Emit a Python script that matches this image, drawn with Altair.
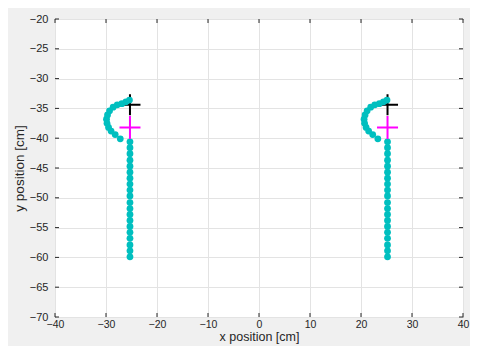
import altair as alt
import pandas as pd

# trajectory points (left and right)
left_x = [-25.3] * 20 + [-27.2, -28.2, -29.0, -29.5, -29.8, -29.9, -29.7, -29.3, -28.6, -27.8, -26.9, -26.1, -25.4]
left_y = [-59.9, -58.9, -57.9, -56.8, -55.8, -54.8, -53.8, -52.8, -51.8, -50.8,
          -49.7, -48.7, -47.7, -46.7, -45.7, -44.7, -43.7, -42.6, -41.6, -40.6,
          -40.1, -39.4, -38.8, -38.2, -37.5, -36.8, -36.1, -35.4, -34.8, -34.4, -34.2, -33.9, -33.6]
right_x = [25.2] * 20 + [23.3, 22.3, 21.5, 21.0, 20.7, 20.6, 20.8, 21.2, 21.9, 22.7, 23.6, 24.4, 25.1]
right_y = [-59.9, -58.9, -57.9, -56.8, -55.8, -54.8, -53.8, -52.8, -51.8, -50.8,
           -49.7, -48.7, -47.7, -46.7, -45.7, -44.7, -43.7, -42.6, -41.6, -40.6,
           -40.1, -39.4, -38.8, -38.2, -37.5, -36.8, -36.1, -35.4, -34.8, -34.4, -34.2, -33.9, -33.6]

# cross markers
black_x = [-25.3, 25.2]
black_y = [-34.4, -34.4]
magenta_x = [-25.3, 25.2]
magenta_y = [-38.2, -38.2]

x_ticks = [-40, -30, -20, -10, 0, 10, 20, 30, 40]
y_ticks = [-70, -65, -60, -55, -50, -45, -40, -35, -30, -25, -20]

pts = pd.DataFrame({"x": left_x + right_x, "y": left_y + right_y})
blk = pd.DataFrame({"x": black_x, "y": black_y})
mag = pd.DataFrame({"x": magenta_x, "y": magenta_y})
xt = pd.DataFrame({"x": x_ticks})
yt = pd.DataFrame({"y": y_ticks})

W, H = 408, 298
AX = "#262626"
XT = "x position [cm]"
YT = "y position [cm]"

xscale = alt.Scale(domain=[-40, 40], nice=False, zero=False)
yscale = alt.Scale(domain=[-70, -20], nice=False, zero=False)

xaxis = alt.Axis(values=x_ticks, title=XT, grid=True, ticks=False, domain=False,
                 labelPadding=2, titlePadding=1, format="d", labelFlush=False,
                 labelOverlap=False, labelFontSize=10.5, titleFontSize=12.5)
yaxis = alt.Axis(values=y_ticks, title=YT, grid=True, ticks=False, domain=False,
                 labelPadding=7, titlePadding=3, format="d", labelFlush=False,
                 labelOverlap=False, labelFontSize=11, titleFontSize=13.5)

X = alt.X("x:Q", scale=xscale, axis=xaxis, title=XT)
Y = alt.Y("y:Q", scale=yscale, axis=yaxis, title=YT)

points = alt.Chart(pts).mark_circle(size=46, color="#00bfbf", opacity=1).encode(x=X, y=Y)

black = alt.Chart(blk).mark_point(shape="M-1,0H1M0,-1V1", size=441, strokeWidth=2,
                                  color="black", filled=False, opacity=1).encode(x=X, y=Y)
magenta = alt.Chart(mag).mark_point(shape="M-1,0H1M0,-1.1V1.1", size=441, strokeWidth=2,
                                    color="#ff00ff", filled=False, opacity=1).encode(x=X, y=Y)

tick_b = alt.Chart(xt).mark_rule(color=AX, strokeWidth=1).encode(
    x=X, y=alt.value(H), y2=alt.value(H - 4))
tick_t = alt.Chart(xt).mark_rule(color=AX, strokeWidth=1).encode(
    x=X, y=alt.value(0), y2=alt.value(4))
tick_l = alt.Chart(yt).mark_rule(color=AX, strokeWidth=1).encode(
    y=Y, x=alt.value(0), x2=alt.value(4))
tick_r = alt.Chart(yt).mark_rule(color=AX, strokeWidth=1).encode(
    y=Y, x=alt.value(W), x2=alt.value(W - 4))

chart = alt.layer(tick_b, tick_t, tick_l, tick_r, black, points, magenta).properties(
    width=W, height=H,
    background="#f0f0f0",
    autosize=alt.AutoSizeParams(type="none"),
    padding={"left": 47, "top": 11, "right": 7, "bottom": 29},
).configure_view(
    fill="white", stroke=AX, strokeWidth=1
).configure_axis(
    gridColor="#e3e3e3", gridWidth=1,
    labelFont="Liberation Sans", labelColor=AX,
    titleFont="Liberation Sans", titleColor=AX, titleFontWeight="normal",
)

chart.save("out.html", embed_options={"renderer": "svg", "actions": False})
